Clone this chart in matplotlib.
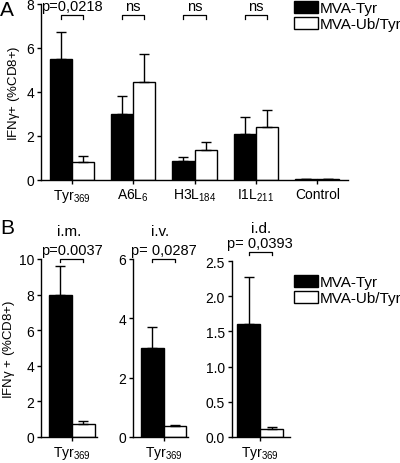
import numpy as np
import matplotlib
matplotlib.use('Agg')
import matplotlib.pyplot as plt
from matplotlib.patches import Patch

plt.rcParams['font.family'] = ['Liberation Sans', 'DejaVu Sans']
plt.rcParams['mathtext.default'] = 'regular'
plt.rcParams['axes.linewidth'] = 1.0

# Panel A data
groups_a = ['Tyr$_{369}$', 'A6L$_{6}$', 'H3L$_{184}$', 'I1L$_{211}$', 'Control']
tyr_a = [5.5, 3.02, 0.85, 2.1, 0.05]
tyr_a_err = [1.25, 0.78, 0.18, 0.76, 0.0]
ub_a = [0.8, 4.45, 1.35, 2.42, 0.05]
ub_a_err = [0.27, 1.3, 0.37, 0.76, 0.0]
signif_a = ['p=0,0218', 'ns', 'ns', 'ns', None]

# Panel B data (Tyr369, three routes)
routes = ['i.m.', 'i.v.', 'i.d.']
tyr_b = [8.0, 3.0, 1.6]
tyr_b_err = [1.6, 0.72, 0.67]
ub_b = [0.75, 0.38, 0.12]
ub_b_err = [0.15, 0.03, 0.025]
pvals_b = ['p=0.0037', 'p= 0,0287', 'p= 0,0393']
ymax_b = [10, 6, 2.5]
yticks_b = [[0, 2, 4, 6, 8, 10], [0, 2, 4, 6], [0.0, 0.5, 1.0, 1.5, 2.0, 2.5]]

legend_labels = ['MVA-Tyr', 'MVA-Ub/Tyr']

fig = plt.figure(figsize=(4, 4.64), dpi=100)
W, H = 400, 464


def add_ax(left, top, right, bottom):
    return fig.add_axes([left / W, 1 - bottom / H, (right - left) / W, (bottom - top) / H])


def style(ax):
    ax.spines['top'].set_visible(False)
    ax.spines['right'].set_visible(False)
    ax.tick_params(direction='out', length=3, width=1, labelsize=10, pad=2)


def bracket(ax, x1, x2, y, drop, text):
    ax.plot([x1, x1, x2, x2], [y - drop, y, y, y - drop], color='black', lw=0.9, clip_on=False)
    ax.annotate(text, ((x1 + x2) / 2, y), xytext=(0, 3.5), textcoords='offset points',
                ha='center', va='baseline', fontsize=10.5, annotation_clip=False)


w = 0.36
eb = dict(ecolor='black', capsize=3.5, elinewidth=1, capthick=1)

# ---- Panel A ----
ax = add_ax(41, 5, 348, 181)
x = np.arange(len(groups_a))
ax.bar(x - w / 2, tyr_a, w, color='black', edgecolor='black', lw=1,
       yerr=[np.zeros(len(x)), tyr_a_err], error_kw=eb)
ax.bar(x + w / 2, ub_a, w, color='white', edgecolor='black', lw=1,
       yerr=[np.zeros(len(x)), ub_a_err], error_kw=eb)
ax.set_xlim(-0.5, 4.5)
ax.set_ylim(0, 8)
ax.set_yticks([0, 2, 4, 6, 8])
ax.set_xticks(x)
ax.set_xticklabels(groups_a)
style(ax)
ax.set_ylabel('IFN$\\gamma$+ (%CD8+)', fontsize=9.5, labelpad=3)
for i, s in enumerate(signif_a):
    if s:
        bracket(ax, x[i] - w / 2, x[i] + w / 2, 7.5, 0.2, s)
fig.legend(handles=[Patch(facecolor='black', edgecolor='black'),
                    Patch(facecolor='white', edgecolor='black')],
           labels=legend_labels, loc='upper left', bbox_to_anchor=(292 / W, 1.0),
           frameon=False, fontsize=11, handlelength=1.6, handleheight=0.9,
           handletextpad=0.1, labelspacing=0.1, borderaxespad=0, borderpad=0.1)
fig.text(0.0, 1 - 1 / H, 'A', fontsize=15, ha='left', va='top')

# ---- Panel B ----
boxes = [(41, 97), (133, 188), (232, 290)]
xlims = [(-0.54, 0.44), (-0.54, 0.43), (-0.49, 0.52)]
for k in range(3):
    top = 260 if k < 2 else 262
    ax = add_ax(boxes[k][0], top, boxes[k][1], 438)
    wb = 0.4
    ax.bar([-wb / 2], [tyr_b[k]], wb, color='black', edgecolor='black', lw=1,
           yerr=[[0], [tyr_b_err[k]]], error_kw=eb)
    ax.bar([wb / 2], [ub_b[k]], wb, color='white', edgecolor='black', lw=1,
           yerr=[[0], [ub_b_err[k]]], error_kw=eb)
    ax.set_xlim(*xlims[k])
    ax.set_ylim(0, ymax_b[k])
    ax.set_yticks(yticks_b[k])
    if k == 2:
        ax.set_yticklabels(['%.1f' % t for t in yticks_b[k]])
    ax.set_xticks([0])
    ax.set_xticklabels(['Tyr$_{369}$'])
    style(ax)
    ym = ymax_b[k]
    by = ym if k < 2 else ym * 1.05
    bracket(ax, -wb / 2, wb / 2, by, ym * 0.018, pvals_b[k])
    ax.set_title(routes[k], fontsize=11, pad=17 if k < 2 else 21)
    if k == 0:
        ax.set_ylabel('IFN$\\gamma$ + (%CD8+)', fontsize=9.5, labelpad=1)

fig.legend(handles=[Patch(facecolor='black', edgecolor='black'),
                    Patch(facecolor='white', edgecolor='black')],
           labels=legend_labels, loc='upper left', bbox_to_anchor=(292 / W, 1 - 274 / H),
           frameon=False, fontsize=11, handlelength=1.6, handleheight=0.9,
           handletextpad=0.1, labelspacing=0.1, borderaxespad=0, borderpad=0.1)
fig.text(0.0, 1 - 219 / H, 'B', fontsize=15, ha='left', va='top')

fig.savefig('out.png', dpi=100)
